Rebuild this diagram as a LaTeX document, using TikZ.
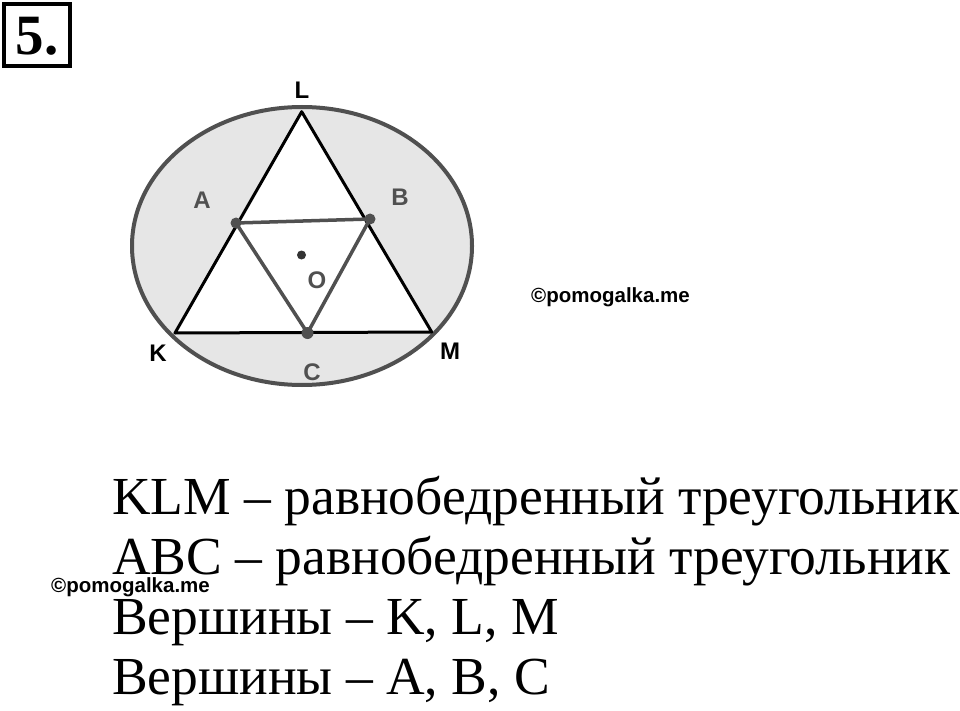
\documentclass[tikz,border=0pt]{standalone}
\usepackage{fontspec}
\setmainfont{Liberation Serif}
\newfontfamily\lsans{Liberation Sans}
\begin{document}
\begin{tikzpicture}[x=1pt,y=-1pt,
  lbl/.style={font=\lsans\bfseries\fontsize{24}{24}\selectfont, inner sep=0pt},
  lblg/.style={lbl, text=gray55},
  wm/.style={font=\lsans\bfseries\fontsize{20.5}{20.5}\selectfont, inner sep=0pt},
  body/.style={font=\fontsize{53.5}{53.5}\selectfont, anchor=base west, inner sep=0pt},
  dotg/.style={fill=gray55, draw=none}]
\definecolor{gray55}{HTML}{505050}
\definecolor{fillg}{HTML}{E6E6E6}
\useasboundingbox (0,0) rectangle (960,711);
% number box
\draw[line width=3.5pt] (4,4) rectangle (70,66);
\node[font=\bfseries\fontsize{57}{57}\selectfont, inner sep=0pt] (num) at (37,36) {5.};
% ellipse
\draw[fill=fillg, draw=gray55, line width=4pt] (302,246) ellipse [x radius=170, y radius=139];
% points
\coordinate (L) at (301.7,111.7);
\coordinate (K) at (175,333);
\coordinate (M) at (431.7,332);
\coordinate (A) at (236,223);
\coordinate (B) at (370,219);
\coordinate (C) at (307.5,333);
\coordinate (O) at (301.5,255);
\draw[fill=white, line width=3pt, line join=round] (K) -- (L) -- (M) -- cycle;
\draw[draw=gray55, line width=3.5pt, line join=round] (A) -- (B) -- (C) -- cycle;
\fill[dotg] (A) circle (5.5);
\fill[dotg] (B) circle (5.5);
\fill[dotg] (C) circle (6);
\fill[black!80] (O) circle (4.5);
% labels
\node[lbl] (lL) at (302,90) {L};
\node[lbl] (lK) at (158,353) {K};
\node[lbl] (lM) at (450,351) {M};
\node[lblg] (lA) at (202,200) {A};
\node[lblg] (lB) at (400,197) {B};
\node[lblg] (lC) at (312,372) {C};
\node[lblg] (lO) at (317,280) {O};
% watermarks
\node[wm, anchor=west] (wm1) at (531,297) {©pomogalka.me};
\node[wm, anchor=west] (wm2) at (51,587) {©pomogalka.me};
% text
\node[body] (t1) at (112,514) {KLM – равнобедренный треугольник};
\node[body] (t2) at (112,574) {ABC – равнобедренный треугольник};
\node[body] (t3) at (112,634) {Вершины – K, L, M};
\node[body] (t4) at (112,694) {Вершины – A, B, C};
\end{tikzpicture}
\end{document}
